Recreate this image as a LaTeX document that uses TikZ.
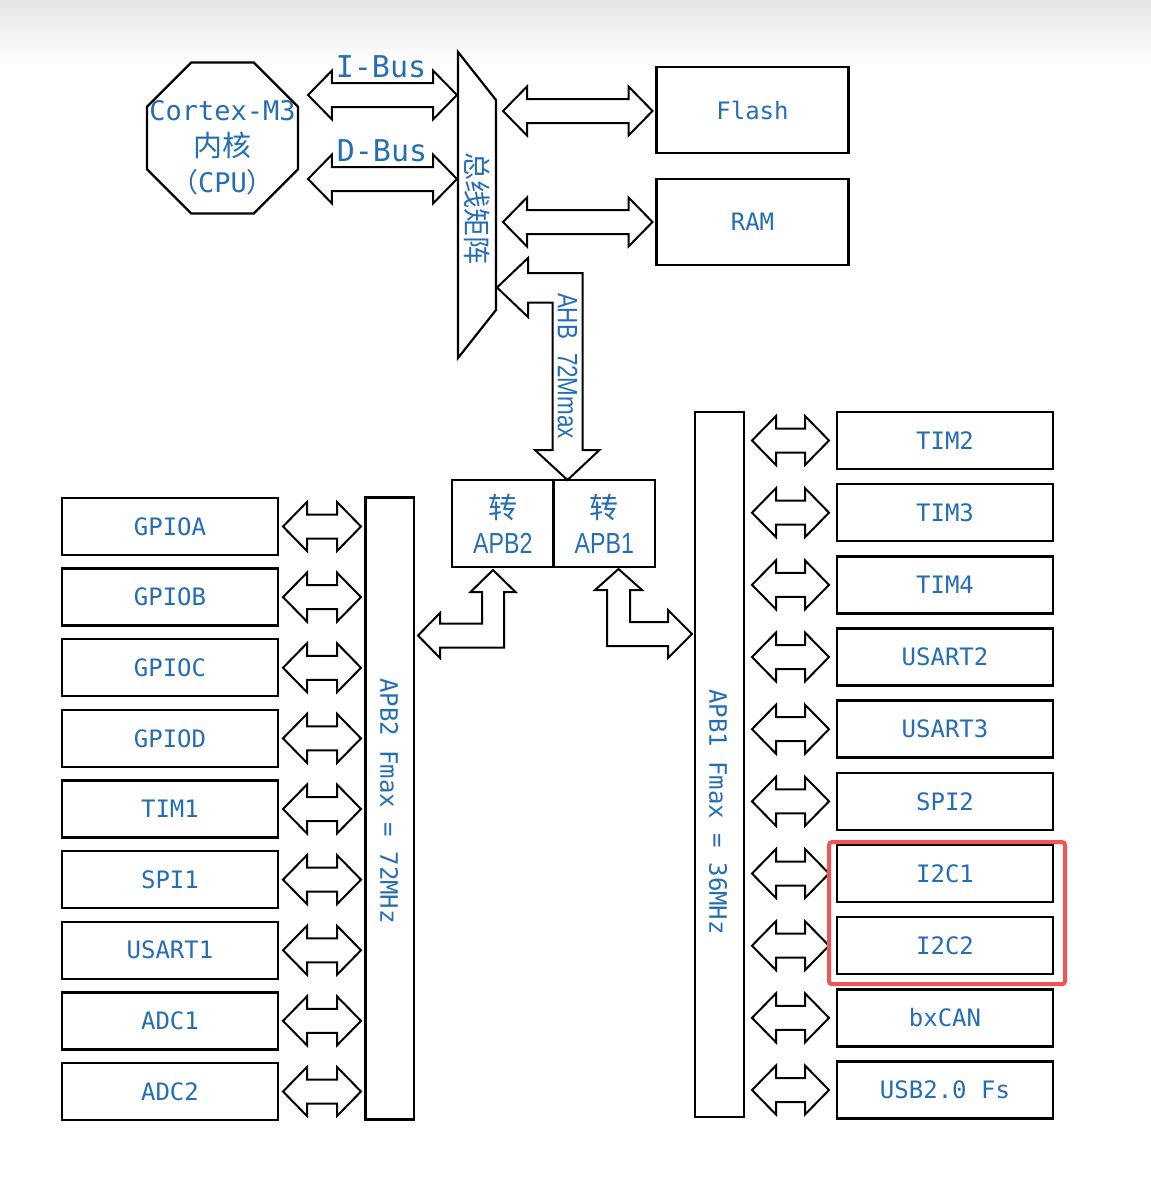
\documentclass[tikz,border=0pt]{standalone}
\usepackage{fontspec}
\setmainfont{DejaVu Sans Mono}
\newfontfamily\cjk{Noto Sans CJK SC}
\newfontfamily\narrow[FakeStretch=0.8]{Liberation Sans}
\usepackage{tikz}
\usetikzlibrary{positioning,calc,shapes.geometric}
\usepackage{xcolor}
\definecolor{labblue}{RGB}{38,110,180}
\definecolor{hired}{RGB}{240,84,84}

\def\arrlen{24pt}\def\arrhead{24.5pt}\def\arrshaft{12pt}
\newcommand{\hdbl}[2]{%
  \draw[blockarr] let \p1=#1, \p2=#2 in
    (\x1,\y1) -- (\x1+\arrlen,\y1+\arrhead) -- (\x1+\arrlen,\y1+\arrshaft)
    -- (\x2-\arrlen,\y1+\arrshaft) -- (\x2-\arrlen,\y1+\arrhead) -- (\x2,\y1)
    -- (\x2-\arrlen,\y1-\arrhead) -- (\x2-\arrlen,\y1-\arrshaft)
    -- (\x1+\arrlen,\y1-\arrshaft) -- (\x1+\arrlen,\y1-\arrhead) -- cycle;}

\tikzset{
  blockarr/.style={draw=black,line width=2pt,fill=white,line join=miter},
  lab/.style={text=labblue,inner sep=0pt},
  periph/.style={draw,line width=2.4pt,minimum width=216pt,minimum height=57pt,
    outer sep=0pt,text=labblue,font=\fontsize{24}{28}\selectfont},
  mem/.style={periph,minimum width=192pt,minimum height=86pt},
  cvbox/.style={draw,line width=2.2pt,minimum width=101.5pt,minimum height=87pt,
    outer sep=0pt,align=center,text=labblue,font=\narrow\fontsize{29}{35}\selectfont},
  bus/.style={draw,line width=2.2pt,outer sep=0pt,fill=white},
  buslab/.style={lab,font=\fontsize{30}{32}\selectfont},
  bartxt/.style={lab,rotate=-90,font=\fontsize{24}{26}\selectfont}
}

\begin{document}
\begin{tikzpicture}[x=1pt,y=-1pt]
\useasboundingbox (0,0) rectangle (1151,1200);
\fill[white] (0,0) rectangle (1151,1200);
\shade[top color=gray!20,bottom color=white] (0,0) rectangle (1151,65);

\node[regular polygon,regular polygon sides=8,draw,line width=2.4pt,
  minimum size=163.4pt,inner sep=0pt,outer sep=0pt] (cpu) at (222.5,138) {};
\node[lab,align=center,font=\fontsize{27}{36}\selectfont] (cputxt) at (222.5,148)
  {Cortex-M3\\{\cjk\fontsize{29}{36}\selectfont 内核}\\{\cjk （}CPU{\cjk ）}};

\draw[bus] (458,52) -- (496,100) -- (496,310) -- (458,358) -- cycle;
\coordinate (mtxW) at (458,205);
\coordinate (mtxE) at (496,205);
\node[lab,rotate=-90,font=\cjk\fontsize{28}{30}\selectfont] (mtxtxt) at (477,208) {总线矩阵};

\node[mem] (flash) at (752.5,110) {Flash};
\node[mem] (ram) at (752.5,222) {RAM};

\hdbl{($(cpu.east)+(10,-43)$)}{($(mtxW|-cpu.east)+(-1,-43)$)}
\hdbl{($(cpu.east)+(10,41)$)}{($(mtxW|-cpu.east)+(-1,41)$)}
\node[buslab] (ibus) at (381,67) {I-Bus};
\node[buslab] (dbus) at (382,151) {D-Bus};

\hdbl{($(mtxE|-flash.west)+(7,1)$)}{($(flash.west)+(-4,1)$)}
\hdbl{($(mtxE|-ram.west)+(7,0)$)}{($(ram.west)+(-4,0)$)}

\node[cvbox] (cv2) at (502.75,523.5) {{\cjk 转}\\APB2};
\node[cvbox,right=0pt of cv2] (cv1) {{\cjk 转}\\APB1};

\coordinate (ahbL) at (497,287.5);
\coordinate (ahbT) at ($(cv2.north east)+(14,0)$);
\draw[blockarr] (ahbL) -- ++(31,-29.5) -- ++(0,15) -| ($(ahbT)+(15,-30)$) -- ++(17,0)
  -- (ahbT) -- ++(-32.5,-30) -- ++(17.5,0) |- ($(ahbL)+(31,15)$) -- ++(0,14.5) -- cycle;
\node[lab,rotate=-90,font=\narrow\fontsize{28}{30}\selectfont] (ahbtxt) at (567.5,366)
  {AHB\hspace{.5em}72Mmax};

\node[bus,minimum width=48.5pt,minimum height=622pt] (bar2) at (389.75,808.5) {};
\node[bus,minimum width=49pt,minimum height=705pt] (bar1) at (719.5,764.5) {};
\node[bartxt] (bar2txt) at (389,801) {APB2 Fmax = 72MHz};
\node[bartxt] (bar1txt) at (718,812) {APB1 Fmax = 36MHz};

\coordinate (p2T) at ($(cv2.south)+(-9.75,3)$);
\coordinate (p2L) at (418,635.5);
\draw[blockarr] (p2T) -- ++(22.5,22) -- ++(-11.5,0) |- ($(p2L)+(22,12)$) -- ++(0,10.5)
  -- (p2L) -- ++(22,-22.5) -- ++(0,10.5) -| ($(p2T)+(-11,22)$) -- ++(-11.5,0) -- cycle;

\coordinate (p1T) at ($(cv1.south)+(14.25,2)$);
\coordinate (p1R) at (692,634);
\draw[blockarr] (p1T) -- ++(23.5,21) -- ++(-12,0) |- ($(p1R)+(-24,-12)$) -- ++(0,-12)
  -- (p1R) -- ++(-24,24) -- ++(0,-12) -| ($(p1T)+(-11.5,21)$) -- ++(-12,0) -- cycle;

\foreach \nm [count=\i from 0] in {GPIOA,GPIOB,GPIOC,GPIOD,TIM1,SPI1,USART1,ADC1,ADC2}{
  \node[periph] (l\i) at (170,526.5+70.625*\i) {\nm};
  \hdbl{($(l\i.east)+(5,0)$)}{($(bar2.west|-l\i.east)+(-4.5,0)$)}
}
\foreach \nm [count=\i from 0] in {TIM2,TIM3,TIM4,USART2,USART3,SPI2,I2C1,I2C2,bxCAN,USB2.0 Fs}{
  \node[periph] (r\i) at (945,440.5+72.17*\i) {\nm};
  \hdbl{($(bar1.east|-r\i.west)+(8,0)$)}{($(r\i.west)+(-8,0)$)}
}

\draw[hired,line width=4pt,rounded corners=3pt] ($(r6.north west)+(-8,-3)$) rectangle ($(r7.south east)+(12,10)$);
\end{tikzpicture}
\end{document}
